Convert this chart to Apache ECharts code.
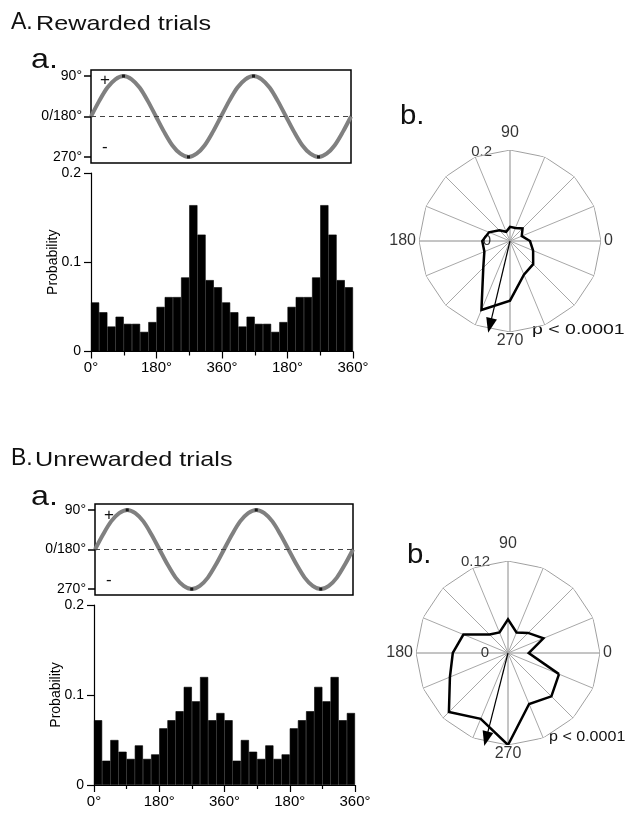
<!DOCTYPE html>
<html><head><meta charset="utf-8">
<script src="https://cdn.jsdelivr.net/npm/echarts@6/dist/echarts.min.js"></script>
<style>html,body{margin:0;padding:0;background:#fff}#c{width:629px;height:814px}</style>
</head><body><div id="c"></div>
<script>
// ---------- data ----------
const binLabels = ['0-22.5','22.5-45','45-67.5','67.5-90','90-112.5','112.5-135','135-157.5','157.5-180',
  '180-202.5','202.5-225','225-247.5','247.5-270','270-292.5','292.5-315','315-337.5','337.5-360'];
const probRewarded   = [0.055,0.044,0.028,0.039,0.031,0.031,0.022,0.033,0.050,0.061,0.061,0.083,0.164,0.131,0.080,0.072];
const probUnrewarded = [0.072,0.027,0.050,0.037,0.029,0.044,0.029,0.034,0.063,0.072,0.082,0.109,0.093,0.120,0.072,0.080];
// direction of each bin in the polar plots
const binAngles = [337.5,0,22.5,45,67.5,90,112.5,135,157.5,180,202.5,225,247.5,270,292.5,315];
const histTickLabels = ['0°','180°','360°','180°','360°'];
const sineX = [0,22.5,45,67.5,90,112.5,135,157.5,180,202.5,225,247.5,270,292.5,315,337.5,
  360,382.5,405,427.5,450,472.5,495,517.5,540,562.5,585,607.5,630,652.5,675,697.5,720];
const sineY = [0,0.38,0.71,0.92,1,0.92,0.71,0.38,0,-0.38,-0.71,-0.92,-1,-0.92,-0.71,-0.38,
  0,0.38,0.71,0.92,1,0.92,0.71,0.38,0,-0.38,-0.71,-0.92,-1,-0.92,-0.71,-0.38,0];
const sineTickValues = [-1,0,1];
const sineTickNames = ['270°','0/180°','90°'];
const polarMaxA = 0.2, polarMaxB = 0.12;
const meanA = {angle:256.6, length:0.191};
const meanB = {angle:255.7, length:0.1155};
const angleLabelValues = [0,90,180,270];
const angleLabelNames = ['0','90','180','270'];
const pText = 'p < 0.0001';

// ---------- build ----------
const FONT = 'Liberation Sans, Arial, sans-serif';
const chart = echarts.init(document.getElementById('c'), null, {renderer:'canvas', width:629, height:814});
const sineData = sineX.map((x,i)=>[x,sineY[i]]);
const peakData = sineData.filter(d=>Math.abs(d[1])===1);
const cats = binLabels.concat(binLabels);

function sineGrid(){return {show:true,borderColor:'#000',borderWidth:1.5,backgroundColor:'transparent'};}
const grids = [
  Object.assign({left:91, top:70, width:260, height:93}, sineGrid()),
  {left:91, top:173, width:262, height:178.5},
  Object.assign({left:95, top:504, width:258, height:91}, sineGrid()),
  {left:94, top:605, width:261, height:180}
];
function sineX_axis(g){return {gridIndex:g,type:'value',min:0,max:720,show:false};}
function catAxis(g){return {gridIndex:g,type:'category',data:cats,show:false,boundaryGap:true,position:'bottom'};}
function valXAxis(g){return {gridIndex:g,type:'value',min:0,max:720,interval:180,position:'bottom',
  axisLine:{show:true,lineStyle:{color:'#000',width:1.2}},
  axisTick:{show:true,length:7,lineStyle:{color:'#000',width:1.2}},
  minorTick:{show:true,splitNumber:2,length:4,lineStyle:{color:'#000',width:1.2}},
  splitLine:{show:false},minorSplitLine:{show:false},
  axisLabel:{color:'#000',fontFamily:FONT,fontSize:15,margin:9,formatter:v=>histTickLabels[Math.round(v/180)]}};}
function sineYAxis(g){return {gridIndex:g,type:'value',min:-1.15,max:1.15,
  axisLine:{show:false},splitLine:{show:false},
  axisTick:{show:true,length:7,customValues:sineTickValues,lineStyle:{color:'#000',width:1.5}},
  axisLabel:{color:'#000',fontFamily:FONT,fontSize:14,margin:9,customValues:sineTickValues,
    formatter:v=>sineTickNames[sineTickValues.indexOf(Math.round(v))]}};}
function histYAxis(g){return {gridIndex:g,type:'value',min:0,max:0.2,interval:0.1,
  name:'Probability',nameLocation:'middle',nameGap:31,nameRotate:90,nameMoveOverlap:false,
  nameTextStyle:{color:'#000',fontFamily:FONT,fontSize:14},
  axisLine:{show:true,lineStyle:{color:'#000',width:1.2}},splitLine:{show:false},
  axisTick:{show:true,length:7,lineStyle:{color:'#000',width:1.2}},
  axisLabel:{color:'#000',fontFamily:FONT,fontSize:14,margin:10}};}

const spokeColors = ['#8a8a8a','#a8a8a8','#a8a8a8','#a8a8a8'];
function angAxis(p){return {polarIndex:p,type:'value',min:0,max:360,interval:22.5,startAngle:0,clockwise:false,
  axisLine:{show:false},axisTick:{show:false},axisLabel:{show:false},
  splitLine:{show:true,lineStyle:{color:spokeColors,width:1}}};}
function radAxis(p,max){return {polarIndex:p,type:'value',min:0,max:max,
  axisLine:{show:false},axisTick:{show:false},axisLabel:{show:false},splitLine:{show:false}};}

function sineSeries(xi,yi){return [
  {type:'line',xAxisIndex:xi,yAxisIndex:yi,data:sineData,smooth:0.3,symbol:'none',silent:true,
   lineStyle:{color:'#808080',width:4},
   markLine:{silent:true,symbol:'none',label:{show:false},lineStyle:{color:'#444',type:[5,4],width:1},data:[{yAxis:0}]}},
  {type:'scatter',xAxisIndex:xi,yAxisIndex:yi,data:peakData,symbol:'rect',symbolSize:[3,3],itemStyle:{color:'#000'},silent:true,z:5}
];}
function histSeries(xi,yi,vals){return {type:'bar',xAxisIndex:xi,yAxisIndex:yi,data:vals.concat(vals),
  barCategoryGap:'0%',itemStyle:{color:'#000',borderColor:'#000',borderWidth:0.6},silent:true};}
function polarSeries(p,max,vals,mean,radLabel,radLabelAngle,radOffset){
  const ringAngles = binAngles.slice().sort((a,b)=>a-b);
  const ring = ringAngles.map(a=>[max,a]); ring.push([max,ringAngles[0]]);
  const rose = binAngles.map((a,i)=>[vals[i],a]); rose.push(rose[0]);
  const posMap = {0:'right',90:'top',180:'left',270:'bottom'};
  const distMap = {0:3,90:9,180:3,270:1};
  return [
    {type:'line',coordinateSystem:'polar',polarIndex:p,data:ring,symbol:'none',silent:true,lineStyle:{color:'#a0a0a0',width:1}},
    {type:'line',coordinateSystem:'polar',polarIndex:p,data:rose,symbol:'none',silent:true,lineStyle:{color:'#000',width:2.5,join:'miter'}},
    {type:'line',coordinateSystem:'polar',polarIndex:p,symbol:'none',showSymbol:true,silent:true,
     lineStyle:{color:'#000',width:1.2},
     data:[[0,mean.angle],{value:[mean.length,mean.angle],symbol:'triangle',symbolSize:[11,15],symbolRotate:mean.angle-90,itemStyle:{color:'#000'}}]},
    {type:'scatter',coordinateSystem:'polar',polarIndex:p,symbolSize:0,silent:true,
     data:angleLabelValues.map((a,i)=>({value:[max,a],label:{show:true,formatter:angleLabelNames[i],position:posMap[a],distance:distMap[a],
       color:'#000',fontFamily:FONT,fontSize:16}}))},
    {type:'scatter',coordinateSystem:'polar',polarIndex:p,symbolSize:0,silent:true,
     data:[{value:[max,radLabelAngle],label:{show:true,formatter:radLabel,position:'inside',offset:radOffset,color:'#000',fontFamily:FONT,fontSize:15}},
           {value:[0,180],label:{show:true,formatter:'0',position:'left',distance:19,color:'#000',fontFamily:FONT,fontSize:15}}]}
  ];
}

function txt(x,y,text,size,sx,align){return {type:'text',x:x,y:y,scaleX:sx||1,silent:true,
  style:{text:text,x:0,y:0,font:size+'px '+FONT,fill:'#111',align:align||'left',verticalAlign:'middle'}};}

const option = {
  animation:false,
  backgroundColor:'#fff',
  grid:grids,
  xAxis:[sineX_axis(0),catAxis(1),valXAxis(1),sineX_axis(2),catAxis(3),valXAxis(3)],
  yAxis:[sineYAxis(0),histYAxis(1),sineYAxis(2),histYAxis(3)],
  polar:[{center:[510,241],radius:91},{center:[508,653],radius:92}],
  angleAxis:[angAxis(0),angAxis(1)],
  radiusAxis:[radAxis(0,polarMaxA),radAxis(1,polarMaxB)],
  series:[].concat(
    sineSeries(0,0), [histSeries(1,1,probRewarded)],
    sineSeries(3,2), [histSeries(4,3,probUnrewarded)],
    polarSeries(0,polarMaxA,probRewarded,meanA,String(polarMaxA),107.5,[-1,-2]),
    polarSeries(1,polarMaxB,probUnrewarded,meanB,String(polarMaxB),110,[-1,-5])
  ),
  graphic:[
    txt(11,23,'A.',23,1,'left'), txt(36,24.5,'Rewarded trials',21,1.2),
    txt(31,60,'a.',28,1.15), txt(100,80,'+',17), txt(102,147,'-',17),
    txt(400,116,'b.',28,1.05), txt(532,330,pText,15,1.3),
    txt(11,459,'B.',23,1,'left'), txt(35,460.5,'Unrewarded trials',21,1.2),
    txt(31,497,'a.',28,1.15), txt(104,515,'+',17), txt(106,580,'-',17),
    txt(407,555,'b.',28,1.05), txt(549,737,pText,15,1.07)
  ]
};
chart.setOption(option);
</script></body></html>
